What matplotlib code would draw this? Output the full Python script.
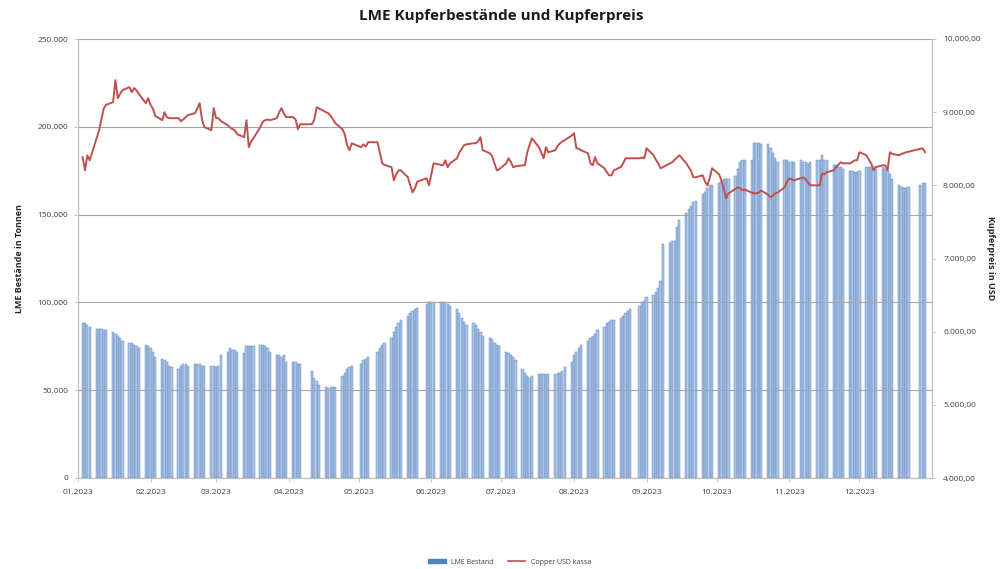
import numpy as np
import pandas as pd
import matplotlib
matplotlib.use("Agg")
import matplotlib.pyplot as plt
import matplotlib.dates as mdates
from matplotlib.ticker import FuncFormatter, MultipleLocator
from matplotlib.patches import Patch
from matplotlib.lines import Line2D

plt.rcParams['font.family'] = ['Open Sans', 'DejaVu Sans']

# LME trading days 2023 (UK holidays removed)
holidays = ['2023-04-07', '2023-04-10', '2023-05-01', '2023-05-08', '2023-05-29',
            '2023-08-28', '2023-12-25', '2023-12-26']

# LME copper stocks in thousand tonnes, per month
stock_jan = [88, 88, 87, 86, 85, 85, 85, 84, 84, 83, 82, 81, 80, 78, 77, 77, 76, 75, 74, 76, 75]
stock_feb = [74, 72, 69, 68, 67, 66, 64, 63, 62, 64, 65, 65, 64, 65, 65, 65, 64, 64, 64, 64]
stock_mar = [63, 64, 70, 72, 74, 73, 73, 72, 71, 75, 75, 75, 75, 76, 76, 75, 74, 72, 70, 70, 69, 70, 66]
stock_apr = [66, 66, 65, 65, 61, 57, 55, 53, 52, 51, 52, 52, 52, 58, 60, 62, 63, 64]
stock_may = [65, 67, 68, 69, 72, 74, 76, 77, 80, 83, 86, 88, 90, 92, 94, 95, 96, 97, 99, 100]
stock_jun = [100, 100, 100, 100, 100, 99, 98, 96, 94, 91, 89, 87, 88, 87, 85, 83, 81, 80, 79, 77, 76, 75]
stock_jul = [72, 71, 70, 69, 67, 62, 60, 58, 57, 58, 59, 59, 59, 59, 59, 59, 60, 60, 61, 63, 66]
stock_aug = [70, 72, 74, 76, 78, 80, 81, 82, 84, 86, 88, 89, 90, 90, 91, 92, 94, 95, 96, 98, 100, 101]
stock_sep = [103, 104, 106, 108, 112, 133, 134, 135, 135, 143, 147, 151, 153, 155, 157, 158,
             162, 163, 165, 167, 167]
stock_oct = [168, 169, 170, 170, 170, 172, 176, 180, 181, 181, 181, 191, 191, 191, 190,
             190, 188, 185, 182, 180, 181, 181]
stock_nov = [180, 180, 180, 181, 180, 180, 179, 180, 181, 181, 184, 181, 181, 178, 178, 177, 177, 176,
             175, 175, 174, 174]
stock_dec = [175, 177, 177, 177, 177, 176, 177, 176, 175, 173, 170, 167, 166, 165, 165, 166, 167, 168, 168]

# Copper cash price in USD, per month
price_jan = [8384, 8205, 8411, 8342, 8650, 8750, 8900, 9050, 9100, 9137, 9438, 9192, 9250, 9300,
             9342, 9274, 9329, 9300, 9250, 9123, 9192]
price_feb = [9100, 9050, 8950, 8890, 9000, 8930, 8918, 8918, 8918, 8876, 8900, 8930, 8960,
             8986, 9050, 9123, 8900, 8795, 8753, 9055]
price_mar = [8918, 8918, 8880, 8822, 8790, 8770, 8753, 8700, 8658, 8890, 8521, 8600, 8644,
             8800, 8870, 8890, 8900, 8890, 8918, 9000, 9055, 8980, 8932]
price_apr = [8932, 8900, 8767, 8835, 8835, 8900, 9068, 9050, 9000, 8986, 8950, 8900, 8850,
             8767, 8700, 8548, 8480, 8575]
price_may = [8521, 8560, 8530, 8590, 8589, 8450, 8301, 8280, 8247, 8068, 8150, 8205, 8205,
             8110, 8000, 7904, 7959, 8050, 8096, 8000]
price_jun = [8150, 8301, 8280, 8274, 8342, 8247, 8300, 8370, 8450, 8500, 8548, 8560,
             8575, 8575, 8600, 8658, 8480, 8438, 8400, 8300, 8205, 8220]
price_jul = [8300, 8370, 8320, 8247, 8260, 8274, 8274, 8450, 8550, 8644, 8521, 8450, 8370,
             8521, 8452, 8480, 8540, 8575, 8600, 8617, 8680]
price_aug = [8712, 8507, 8500, 8480, 8438, 8300, 8274, 8384, 8300, 8233, 8180, 8137, 8137,
             8205, 8250, 8300, 8370, 8370, 8370, 8370, 8380, 8370]
price_sep = [8507, 8411, 8350, 8300, 8233, 8250, 8300, 8315, 8350, 8380, 8411, 8301, 8250,
             8200, 8110, 8110, 8137, 8050, 8000, 8100, 8233]
price_oct = [8150, 8068, 7950, 7822, 7890, 7950, 7973, 7960, 7932, 7940, 7900, 7890, 7893,
             7900, 7930, 7870, 7836, 7860, 7890, 7900, 7973, 8050]
price_nov = [8096, 8080, 8068, 8100, 8110, 8080, 8040, 8000, 8000, 8000, 8164, 8150, 8180,
             8205, 8250, 8280, 8315, 8300, 8301, 8320, 8342, 8342]
price_dec = [8452, 8411, 8350, 8301, 8205, 8250, 8274, 8274, 8205, 8452, 8430, 8411, 8430,
             8440, 8452, 8460, 8500, 8507, 8452]

stocks = np.array(stock_jan + stock_feb + stock_mar + stock_apr + stock_may + stock_jun +
                  stock_jul + stock_aug + stock_sep + stock_oct + stock_nov + stock_dec) * 1000
prices = np.array(price_jan + price_feb + price_mar + price_apr + price_may + price_jun +
                  price_jul + price_aug + price_sep + price_oct + price_nov + price_dec)

days = pd.bdate_range('2023-01-03', '2023-12-29')
days = days[~days.isin(pd.to_datetime(holidays))]
n = min(len(days), len(stocks), len(prices))
days = days[:n]

month_ticks = pd.date_range('2023-01-01', '2023-12-01', freq='MS')

fig = plt.figure(figsize=(10.03, 5.69), dpi=100)
ax = fig.add_axes([78 / 1003, 91 / 569, (932 - 78) / 1003, (478 - 39) / 569])
ax2 = ax.twinx()

text_col = '#404040'
grid_col = '#a6a6a6'

ax.bar(days, stocks[:n], width=0.95, color='#adc5e4', edgecolor='#5b86c0',
       linewidth=0.35, zorder=2)
ax2.plot(days, prices[:n], color='#c0504d', lw=1.4, zorder=3)

ax.set_xlim(pd.Timestamp('2023-01-01'), pd.Timestamp('2024-01-01'))
ax.set_ylim(0, 250000)
ax2.set_ylim(4000, 10000)

ax.set_axisbelow(False)
ax.yaxis.set_major_locator(MultipleLocator(50000))
ax.yaxis.grid(True, color=grid_col, lw=0.8, zorder=2.5)
ax.yaxis.set_major_formatter(FuncFormatter(lambda v, p: f'{int(v):,}'.replace(',', '.')))
ax2.yaxis.set_major_locator(MultipleLocator(1000))
ax2.yaxis.set_major_formatter(FuncFormatter(
    lambda v, p: f'{v:,.2f}'.replace(',', 'X').replace('.', ',').replace('X', '.')))

ax.set_xticks(month_ticks)
ax.xaxis.set_major_formatter(mdates.DateFormatter('%m.%Y'))

for a in (ax, ax2):
    for s in a.spines.values():
        s.set_color('#bfbfbf')
        s.set_linewidth(0.8)
    a.spines['top'].set_visible(False)
    a.tick_params(labelsize=6, colors=text_col, length=3, width=0.6)
ax.tick_params(axis='x', pad=5)
ax.tick_params(axis='y', pad=4)
ax2.tick_params(axis='y', pad=5)
ax.tick_params(axis='both', color='#bfbfbf')
ax2.tick_params(axis='y', color='#bfbfbf')

ax.set_ylabel('LME Bestände in Tonnen', fontsize=6.5, fontweight='bold', color='#262626', labelpad=10)
ax2.set_ylabel('Kupferpreis in USD', fontsize=6.5, fontweight='bold', color='#262626',
               rotation=270, labelpad=10)

fig.text(0.5, 0.972, 'LME Kupferbestände und Kupferpreis', ha='center', va='center',
         fontsize=11, fontweight='bold', color='#1a1a1a')

handles = [Patch(facecolor='#4f81bd', edgecolor='#4f81bd'),
           Line2D([0], [0], color='#c0504d', lw=1.2)]
fig.legend(handles, ['LME Bestand', 'Copper USD kassa'], loc='center',
           bbox_to_anchor=(0.508, 0.012), ncol=2, frameon=False, fontsize=5,
           handlelength=2.5, handleheight=0.6, columnspacing=2, labelcolor=text_col)

fig.savefig('out.png', dpi=100)
